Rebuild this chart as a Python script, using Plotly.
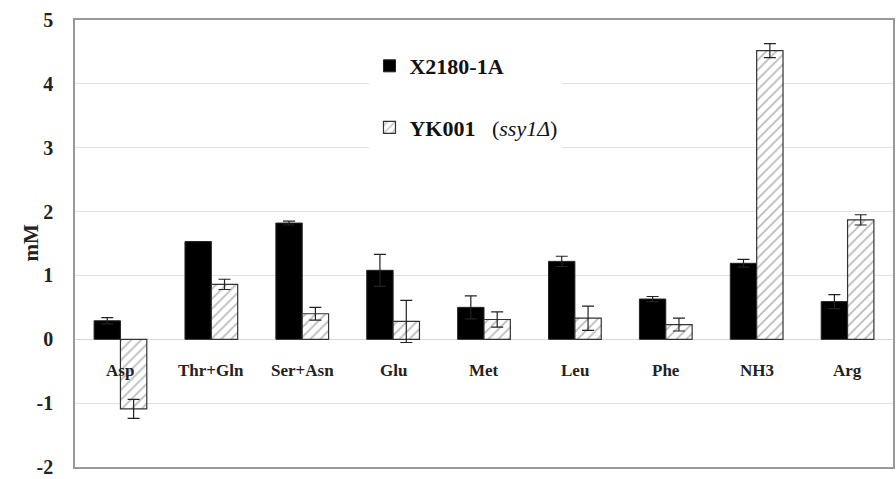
import plotly.graph_objects as go

categories = ["Asp", "Thr+Gln", "Ser+Asn", "Glu", "Met", "Leu", "Phe", "NH3", "Arg"]
wt_values = [0.29, 1.53, 1.82, 1.08, 0.50, 1.22, 0.63, 1.19, 0.59]
wt_errors = [0.05, 0.0, 0.03, 0.25, 0.18, 0.08, 0.04, 0.06, 0.11]
mut_values = [-1.09, 0.86, 0.40, 0.28, 0.31, 0.33, 0.23, 4.52, 1.87]
mut_errors = [0.15, 0.08, 0.10, 0.33, 0.12, 0.19, 0.10, 0.11, 0.08]
y_ticks = [-2, -1, 0, 1, 2, 3, 4, 5]
y_tick_text = ["-2", "-1", "0", "1", "2", "3", "4", "5"]
label_y = -0.49

FONT = "Liberation Serif, Times New Roman, serif"

fig = go.Figure()
fig.add_trace(go.Bar(
    x=categories, y=wt_values, name="<b>X2180-1A</b>",
    marker=dict(color="black", line=dict(color="#222", width=1)),
    error_y=dict(type="data", array=wt_errors, color="#222", thickness=1.2, width=6),
    legendgroup="a",
))
fig.add_trace(go.Bar(
    x=categories, y=mut_values, name="<b>YK001</b>&nbsp;&nbsp;&nbsp;(<i>ssy1Δ</i>)",
    marker=dict(color="white", line=dict(color="#333", width=1.2),
                pattern=dict(shape="/", fgcolor="#777", bgcolor="white", size=7, solidity=0.25)),
    error_y=dict(type="data", array=mut_errors, color="#222", thickness=1.2, width=6),
    legendgroup="b",
))

for c in categories:
    fig.add_annotation(x=c, y=label_y, text=f"<b>{c}</b>", showarrow=False,
                       font=dict(family=FONT, size=17, color="#222"))

fig.add_annotation(xref="paper", yref="paper", x=-45 / 818, y=0.5, text="<b>mM</b>",
                   textangle=-90, showarrow=False, xanchor="center", yanchor="middle",
                   font=dict(family=FONT, size=21, color="#222"))

fig.update_layout(
    width=896, height=479,
    margin=dict(l=75, r=3, t=20, b=12, autoexpand=False),
    paper_bgcolor="white", plot_bgcolor="white",
    barmode="group", bargap=0.42, bargroupgap=0,
    font=dict(family=FONT, color="#222"),
    showlegend=True,
    legend=dict(x=0.36, y=0.944, xanchor="left", yanchor="top",
                bgcolor="white", borderwidth=0,
                font=dict(family=FONT, size=22, color="#111"),
                tracegroupgap=30, traceorder="grouped"),
)
fig.update_xaxes(showticklabels=False, showgrid=False, ticks="", automargin=False,
                 showline=True, linecolor="#999", linewidth=1.5, mirror=True)
fig.update_yaxes(range=[-2, 5], tickvals=y_ticks, ticktext=y_tick_text, showgrid=True,
                 gridcolor="#e2e2e2", automargin=False, ticklabeloverflow="allow",
                 zeroline=True, zerolinecolor="#d8d8d8", zerolinewidth=1,
                 showline=True, linecolor="#999", linewidth=1.5, mirror=True,
                 ticks="", ticklen=0, ticklabelstandoff=16,
                 tickfont=dict(family=FONT, size=20, color="#222", weight="bold"))

fig.write_html("out.html", config={"displayModeBar": False},
               post_script="document.body.style.margin='0';document.body.style.overflow='hidden';")
